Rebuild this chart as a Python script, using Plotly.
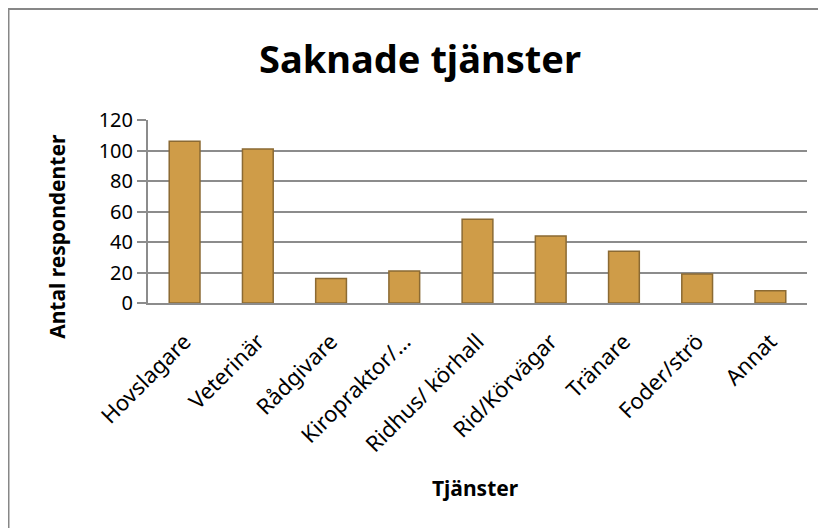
import plotly.graph_objects as go

categories = ["Hovslagare", "Veterinär", "Rådgivare", "Kiropraktor/…", "Ridhus/ körhall",
              "Rid/Körvägar", "Tränare", "Foder/strö", "Annat"]
values = [106, 101, 16, 21, 55, 44, 34, 19, 8]
y_ticks = [0, 20, 40, 60, 80, 100, 120]

FONT = "Noto Sans"
W, H = 826, 528
L, R, T, B = 140, 27, 111.5, 233.3
pw, ph = W - L - R, H - T - B

def px_x(px):
    return (px - L) / pw

def px_y(py):
    return (H - B - py) / ph

fig = go.Figure()
fig.add_trace(go.Bar(
    x=categories, y=values,
    marker=dict(color="#CF9C48", line=dict(color="#8B6A33", width=1.5)),
    width=0.42,
))

fig.update_layout(
    width=W, height=H,
    margin=dict(l=L, r=R, t=T, b=B, autoexpand=False),
    paper_bgcolor="white", plot_bgcolor="white",
    showlegend=False,
    font=dict(family=FONT, color="black"),
    title=dict(text="<b>Saknade tjänster</b>", x=px_x(412), xref="paper", xanchor="center",
               y=1 - 52 / H, yanchor="middle",
               font=dict(family=FONT, size=38, color="black")),
    xaxis=dict(
        tickangle=-45, tickfont=dict(family=FONT, size=22, color="black"),
        ticklabelstandoff=15,
        showline=True, linecolor="#8C8C8C", linewidth=2,
        ticks="", showgrid=False,
    ),
    yaxis=dict(
        range=[0, 120], tickvals=y_ticks,
        tickfont=dict(family=FONT, size=20, color="black"),
        showline=True, linecolor="#8C8C8C", linewidth=2,
        ticks="outside", ticklen=9, tickcolor="#8C8C8C", tickwidth=1.5,
        showgrid=True, gridcolor="#8C8C8C", gridwidth=1.8,
        zeroline=False,
    ),
    annotations=[
        dict(text="<b>Tjänster</b>", xref="paper", yref="paper",
             x=px_x(467), y=px_y(480), xanchor="center", yanchor="middle",
             showarrow=False, font=dict(family=FONT, size=21, color="black")),
        dict(text="<b>Antal respondenter</b>", xref="paper", yref="paper",
             x=px_x(49.5), y=px_y(228), xanchor="center", yanchor="middle",
             textangle=-90, showarrow=False,
             font=dict(family=FONT, size=21, color="black")),
    ],
    shapes=[dict(type="rect", xref="paper", yref="paper",
                 x0=px_x(0.5), x1=px_x(W + 20),
                 y0=px_y(H + 20), y1=px_y(0.5),
                 line=dict(color="#878787", width=2), fillcolor="rgba(0,0,0,0)",
                 layer="below")],
)

fig.write_html("out.html")
